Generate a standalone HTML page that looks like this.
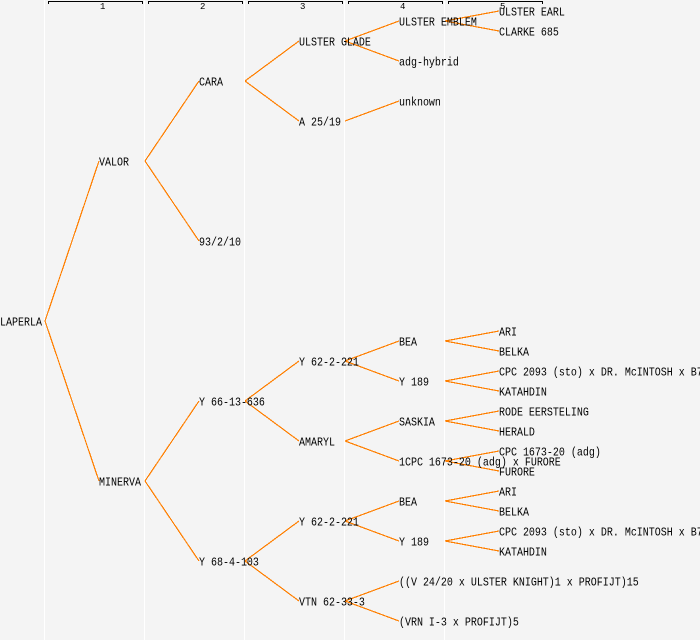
<!DOCTYPE html>
<html><head><meta charset="utf-8"><style>
html,body{margin:0;padding:0;background:#f4f4f4}
svg{display:block}
text{font-family:"Liberation Mono","DejaVu Sans Mono",monospace;font-size:12px;fill:#000}
.h{font-size:9px}
.l line{stroke:#ff7f00;stroke-width:1.2;shape-rendering:crispEdges}
.w line{stroke:#fff;stroke-width:1;shape-rendering:crispEdges}
.b path{stroke:#000;stroke-width:1;fill:none;shape-rendering:crispEdges}
</style></head><body>
<svg xmlns="http://www.w3.org/2000/svg" width="700" height="640" viewBox="0 0 700 640">
<rect width="700" height="640" fill="#f4f4f4"/>
<g class="w">
<line x1="44.5" y1="0" x2="44.5" y2="640"/><line x1="144.5" y1="0" x2="144.5" y2="640"/><line x1="244.5" y1="0" x2="244.5" y2="640"/><line x1="344.5" y1="0" x2="344.5" y2="640"/><line x1="444.5" y1="0" x2="444.5" y2="640"/>
</g>
<g class="b">
<path d="M48.5 4V1.5H142.5V4"/><path d="M148.5 4V1.5H242.5V4"/><path d="M248.5 4V1.5H342.5V4"/><path d="M348.5 4V1.5H442.5V4"/><path d="M448.5 4V1.5H542.5V4"/>
</g>
<text class="h" x="100" y="9">1</text><text class="h" x="200" y="9">2</text><text class="h" x="300" y="9">3</text><text class="h" x="400" y="9">4</text><text class="h" x="500" y="9">5</text>
<g class="l">
<line x1="45" y1="321" x2="99" y2="161"/><line x1="45" y1="321" x2="99" y2="481"/>
<line x1="145" y1="161" x2="199" y2="81"/><line x1="145" y1="161" x2="199" y2="241"/>
<line x1="145" y1="481" x2="199" y2="401"/><line x1="145" y1="481" x2="199" y2="561"/>
<line x1="245" y1="81" x2="299" y2="41"/><line x1="245" y1="81" x2="299" y2="121"/>
<line x1="245" y1="401" x2="299" y2="361"/><line x1="245" y1="401" x2="299" y2="441"/>
<line x1="245" y1="561" x2="299" y2="521"/><line x1="245" y1="561" x2="299" y2="601"/>
<line x1="345" y1="41" x2="399" y2="21"/><line x1="345" y1="41" x2="399" y2="61"/>
<line x1="345" y1="121" x2="399" y2="101"/>
<line x1="345" y1="361" x2="399" y2="341"/><line x1="345" y1="361" x2="399" y2="381"/>
<line x1="345" y1="441" x2="399" y2="421"/><line x1="345" y1="441" x2="399" y2="461"/>
<line x1="345" y1="521" x2="399" y2="501"/><line x1="345" y1="521" x2="399" y2="541"/>
<line x1="345" y1="601" x2="399" y2="581"/><line x1="345" y1="601" x2="399" y2="621"/>
<line x1="445" y1="21" x2="499" y2="11"/><line x1="445" y1="21" x2="499" y2="31"/>
<line x1="445" y1="341" x2="499" y2="331"/><line x1="445" y1="341" x2="499" y2="351"/>
<line x1="445" y1="381" x2="499" y2="371"/><line x1="445" y1="381" x2="499" y2="391"/>
<line x1="445" y1="421" x2="499" y2="411"/><line x1="445" y1="421" x2="499" y2="431"/>
<line x1="445" y1="461" x2="499" y2="451"/><line x1="445" y1="461" x2="499" y2="471"/>
<line x1="445" y1="501" x2="499" y2="491"/><line x1="445" y1="501" x2="499" y2="511"/>
<line x1="445" y1="541" x2="499" y2="531"/><line x1="445" y1="541" x2="499" y2="551"/>
</g>
<g transform="translate(0,-0.5) scale(.8333,1)">
<text x="0" y="326">LAPERLA</text>
<text x="118.8" y="166">VALOR</text>
<text x="118.8" y="486">MINERVA</text>
<text x="238.8" y="86">CARA</text>
<text x="238.8" y="246">93/2/10</text>
<text x="238.8" y="406">Y 66-13-636</text>
<text x="238.8" y="566">Y 68-4-103</text>
<text x="358.8" y="46">ULSTER GLADE</text>
<text x="358.8" y="126">A 25/19</text>
<text x="358.8" y="366">Y 62-2-221</text>
<text x="358.8" y="446">AMARYL</text>
<text x="358.8" y="526">Y 62-2-221</text>
<text x="358.8" y="606">VTN 62-33-3</text>
<text x="478.8" y="26">ULSTER EMBLEM</text>
<text x="478.8" y="66">adg-hybrid</text>
<text x="478.8" y="106">unknown</text>
<text x="478.8" y="346">BEA</text>
<text x="478.8" y="386">Y 189</text>
<text x="478.8" y="426">SASKIA</text>
<text x="478.8" y="466">1CPC 1673-20 (adg) x FURORE</text>
<text x="478.8" y="506">BEA</text>
<text x="478.8" y="546">Y 189</text>
<text x="478.8" y="586">((V 24/20 x ULSTER KNIGHT)1 x PROFIJT)15</text>
<text x="478.8" y="626">(VRN I-3 x PROFIJT)5</text>
<text x="598.8" y="16">ULSTER EARL</text>
<text x="598.8" y="36">CLARKE 685</text>
<text x="598.8" y="336">ARI</text>
<text x="598.8" y="356">BELKA</text>
<text x="598.8" y="376">CPC 2093 (sto) x DR. McINTOSH x B7</text>
<text x="598.8" y="396">KATAHDIN</text>
<text x="598.8" y="416">RODE EERSTELING</text>
<text x="598.8" y="436">HERALD</text>
<text x="598.8" y="456">CPC 1673-20 (adg)</text>
<text x="598.8" y="476">FURORE</text>
<text x="598.8" y="496">ARI</text>
<text x="598.8" y="516">BELKA</text>
<text x="598.8" y="536">CPC 2093 (sto) x DR. McINTOSH x B7</text>
<text x="598.8" y="556">KATAHDIN</text>
</g>
</svg>
</body></html>
